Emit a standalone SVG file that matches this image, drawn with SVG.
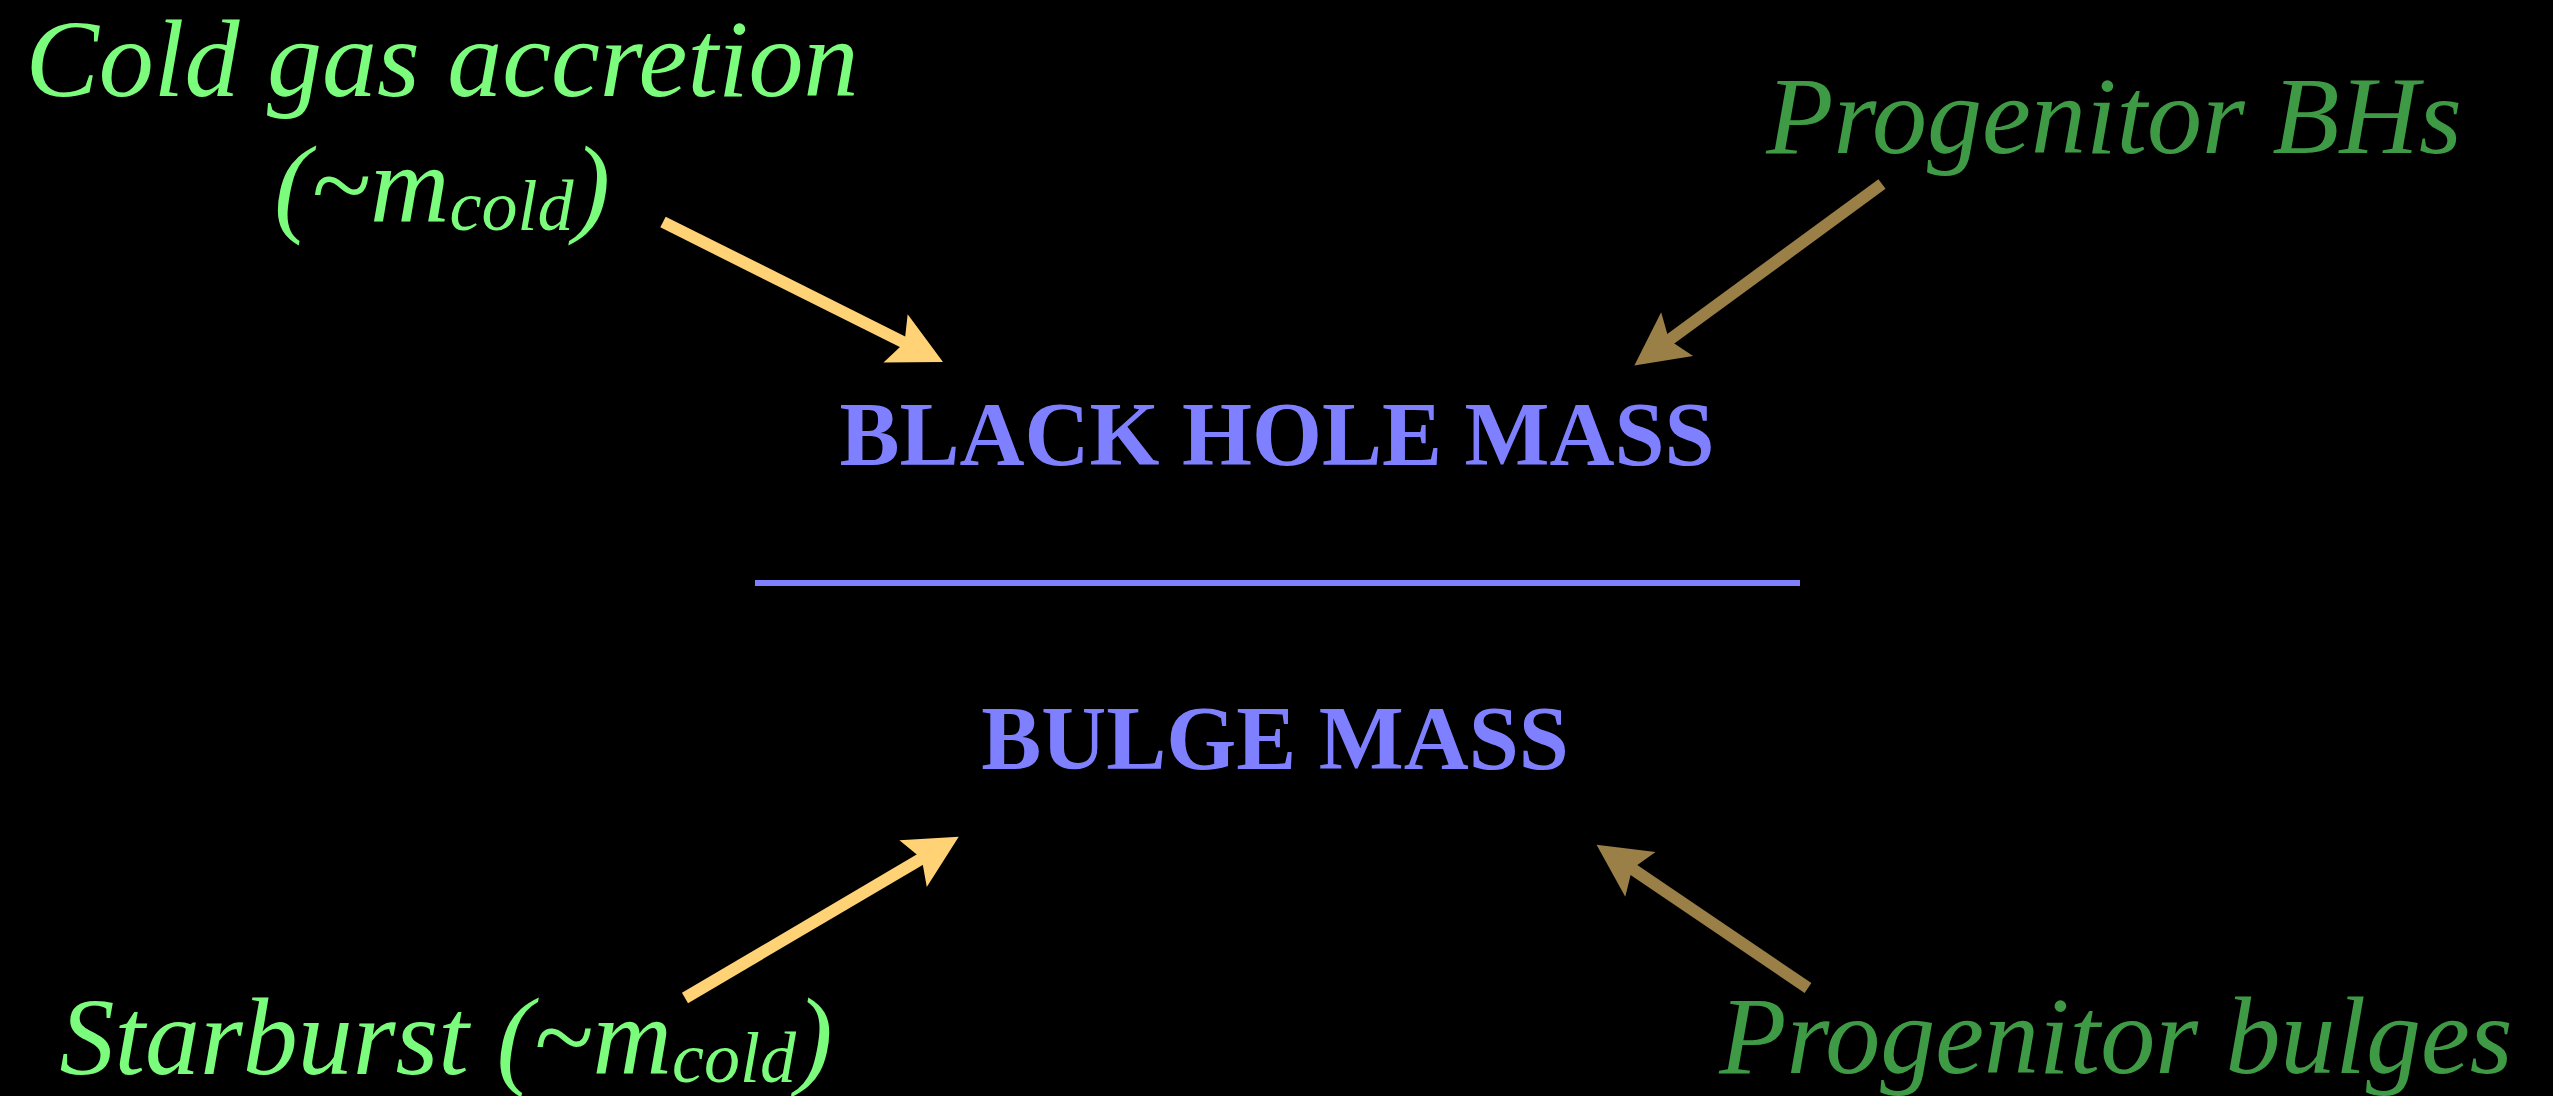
<svg xmlns="http://www.w3.org/2000/svg" width="2553" height="1096" viewBox="0 0 2553 1096">
  <style>
    .lbl { font-family: "Liberation Serif", "Times New Roman", serif; font-style: italic; font-size: 110px; text-anchor: middle; }
    .light { fill: #7cfc7c; }
    .dark { fill: #3f9a45; }
    .sub { font-size: 72px; }
    .main { font-family: "Liberation Serif", "Times New Roman", serif; font-weight: bold; font-size: 90px; fill: #7f80ff; text-anchor: middle; }
    .gold { stroke: #ffd275; stroke-width: 12; fill: none; }
    .brown { stroke: #9a7f47; stroke-width: 12; fill: none; }
  </style>
  <defs>
    <marker id="headGold" markerUnits="userSpaceOnUse" orient="auto" refX="0" refY="0" markerWidth="120" markerHeight="120" viewBox="-30 -60 120 120" overflow="visible">
      <path d="M38,0 L-15,-27 L-5,0 L-15,27 Z" fill="#ffd275"/>
    </marker>
    <marker id="headBrown" markerUnits="userSpaceOnUse" orient="auto" refX="0" refY="0" markerWidth="120" markerHeight="120" viewBox="-30 -60 120 120" overflow="visible">
      <path d="M38,0 L-15,-27 L-5,0 L-15,27 Z" fill="#9a7f47"/>
    </marker>
  </defs>
  <rect x="0" y="0" width="2553" height="1096" fill="#000000"/>

  <g id="cold-gas-accretion">
    <text class="lbl light" x="442" y="96">Cold gas accretion</text>
    <text class="lbl light" x="442" y="222">(~m<tspan class="sub" dy="8">cold</tspan><tspan dy="-8">)</tspan></text>
  </g>

  <g id="progenitor-bhs">
    <text class="lbl dark" x="2114" y="153">Progenitor BHs</text>
  </g>

  <g id="black-hole-mass">
    <text class="main" x="1277" y="465">BLACK HOLE MASS</text>
  </g>

  <g id="ratio-line">
    <line x1="755" y1="583" x2="1800" y2="583" stroke="#7f80ff" stroke-width="6"/>
  </g>

  <g id="bulge-mass">
    <text class="main" x="1275" y="769">BULGE MASS</text>
  </g>

  <g id="starburst">
    <text class="lbl light" x="446" y="1074">Starburst (~m<tspan class="sub" dy="8">cold</tspan><tspan dy="-8">)</tspan></text>
  </g>

  <g id="progenitor-bulges">
    <text class="lbl dark" x="2116" y="1073">Progenitor bulges</text>
  </g>

  <g id="connectors">
    <line class="gold" x1="663" y1="222" x2="909" y2="345" marker-end="url(#headGold)"/>
    <line class="brown" x1="1882" y1="184" x2="1665" y2="343" marker-end="url(#headBrown)"/>
    <line class="gold" x1="685" y1="998" x2="926" y2="856" marker-end="url(#headGold)"/>
    <line class="brown" x1="1808" y1="988" x2="1628" y2="866" marker-end="url(#headBrown)"/>
  </g>
</svg>
